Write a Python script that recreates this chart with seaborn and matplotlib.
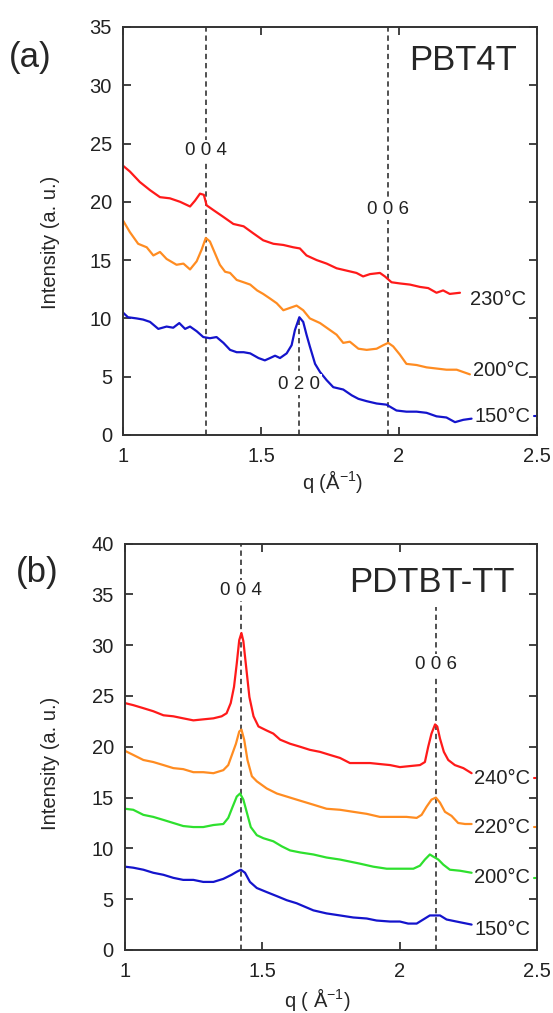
import numpy as np
import pandas as pd
import matplotlib
matplotlib.use("Agg")
import matplotlib.pyplot as plt
import seaborn as sns

# ---- data ----
# panel (a) PBT4T
q_a_230 = [1.000, 1.025, 1.061, 1.098, 1.134, 1.170, 1.207, 1.243, 1.261, 1.279, 1.293, 1.303, 1.327,
           1.364, 1.400, 1.437, 1.472, 1.508, 1.545, 1.581, 1.617, 1.641, 1.665, 1.702, 1.738, 1.774,
           1.810, 1.846, 1.870, 1.895, 1.931, 1.949, 1.973, 2.003, 2.040, 2.076, 2.106, 2.136, 2.160,
           2.184, 2.221]
i_a_230 = [23.1, 22.6, 21.7, 21.0, 20.4, 20.3, 20.0, 19.6, 20.1, 20.7, 20.6, 19.7, 19.3,
           18.7, 18.1, 17.9, 17.3, 16.7, 16.4, 16.3, 16.1, 16.0, 15.4, 15.0, 14.7, 14.3,
           14.1, 13.9, 13.6, 13.8, 13.9, 13.6, 13.1, 13.0, 12.9, 12.7, 12.6, 12.2, 12.4,
           12.1, 12.2]

q_a_200 = [1.000, 1.025, 1.055, 1.086, 1.110, 1.134, 1.158, 1.194, 1.219, 1.243, 1.267, 1.285, 1.300,
           1.315, 1.333, 1.351, 1.370, 1.388, 1.412, 1.437, 1.461, 1.486, 1.508, 1.533, 1.557, 1.581,
           1.605, 1.629, 1.653, 1.677, 1.714, 1.750, 1.774, 1.798, 1.822, 1.853, 1.883, 1.919, 1.943,
           1.961, 1.979, 2.003, 2.027, 2.064, 2.100, 2.136, 2.172, 2.209, 2.233, 2.257]
i_a_200 = [18.4, 17.4, 16.4, 16.1, 15.4, 15.7, 15.1, 14.6, 14.7, 14.2, 14.9, 15.9, 16.9,
           16.6, 15.6, 14.6, 14.0, 13.9, 13.3, 13.1, 12.9, 12.4, 12.1, 11.7, 11.3, 10.7,
           10.9, 11.1, 10.7, 10.0, 9.6, 9.0, 8.6, 7.9, 8.0, 7.4, 7.3, 7.4, 7.7,
           7.9, 7.6, 6.9, 6.1, 6.0, 5.8, 5.7, 5.6, 5.6, 5.4, 5.2]

q_a_150 = [1.000, 1.018, 1.049, 1.073, 1.098, 1.128, 1.158, 1.182, 1.204, 1.225, 1.243, 1.267, 1.291,
           1.315, 1.339, 1.364, 1.388, 1.412, 1.437, 1.461, 1.491, 1.514, 1.533, 1.551, 1.569, 1.593,
           1.611, 1.623, 1.639, 1.653, 1.665, 1.677, 1.696, 1.714, 1.738, 1.762, 1.798, 1.829, 1.853,
           1.883, 1.919, 1.955, 1.991, 2.027, 2.064, 2.100, 2.136, 2.172, 2.203, 2.233, 2.263]
i_a_150 = [10.5, 10.1, 10.0, 9.9, 9.7, 9.1, 9.3, 9.2, 9.6, 9.1, 9.3, 8.9, 8.4,
           8.3, 8.4, 7.9, 7.3, 7.1, 7.1, 7.0, 6.6, 6.4, 6.6, 6.8, 6.6, 7.0,
           7.7, 9.0, 10.1, 9.7, 8.6, 7.6, 6.1, 5.4, 4.7, 4.1, 3.9, 3.4, 3.1,
           2.9, 2.7, 2.6, 2.1, 2.0, 2.0, 1.9, 1.6, 1.5, 1.1, 1.3, 1.4]

# panel (b) PDTBT-TT
q_b_240 = [1.000, 1.030, 1.067, 1.103, 1.140, 1.176, 1.212, 1.249, 1.285, 1.322, 1.352, 1.370, 1.385,
           1.397, 1.407, 1.416, 1.424, 1.431, 1.441, 1.453, 1.468, 1.486, 1.516, 1.540, 1.565, 1.601,
           1.638, 1.673, 1.710, 1.746, 1.783, 1.819, 1.855, 1.892, 1.928, 1.965, 2.001, 2.037, 2.074,
           2.092, 2.104, 2.116, 2.129, 2.137, 2.147, 2.161, 2.177, 2.201, 2.232, 2.262]
i_b_240 = [24.3, 24.1, 23.8, 23.5, 23.1, 23.0, 22.8, 22.6, 22.7, 22.8, 23.0, 23.3, 24.3,
           25.9, 28.2, 30.5, 31.2, 30.4, 27.9, 24.9, 23.0, 22.0, 21.6, 21.3, 20.7, 20.3,
           20.0, 19.7, 19.5, 19.2, 18.9, 18.4, 18.4, 18.4, 18.3, 18.2, 18.0, 18.1, 18.2,
           18.5, 20.0, 21.3, 22.2, 22.0, 20.8, 19.5, 18.7, 18.2, 17.9, 17.4]

q_b_220 = [1.000, 1.030, 1.067, 1.103, 1.140, 1.176, 1.212, 1.249, 1.285, 1.322, 1.358, 1.376, 1.392,
           1.404, 1.416, 1.424, 1.434, 1.446, 1.462, 1.480, 1.516, 1.553, 1.589, 1.625, 1.686, 1.734,
           1.783, 1.831, 1.880, 1.928, 1.977, 2.025, 2.062, 2.080, 2.098, 2.116, 2.132, 2.147, 2.165,
           2.189, 2.213, 2.238, 2.262]
i_b_220 = [19.6, 19.2, 18.7, 18.5, 18.2, 17.9, 17.8, 17.5, 17.5, 17.4, 17.7, 18.2, 19.4,
           20.3, 21.5, 21.7, 20.7, 18.7, 17.1, 16.6, 15.9, 15.4, 15.1, 14.8, 14.3, 13.9,
           13.8, 13.6, 13.4, 13.1, 13.1, 13.1, 13.0, 13.3, 14.1, 14.8, 15.0, 14.5, 13.6,
           13.2, 12.5, 12.4, 12.4]

q_b_200 = [1.000, 1.030, 1.067, 1.103, 1.140, 1.176, 1.212, 1.249, 1.285, 1.322, 1.358, 1.376, 1.392,
           1.407, 1.419, 1.431, 1.444, 1.458, 1.480, 1.504, 1.540, 1.571, 1.601, 1.638, 1.686, 1.734,
           1.783, 1.819, 1.855, 1.904, 1.953, 2.001, 2.050, 2.074, 2.092, 2.110, 2.122, 2.141, 2.159,
           2.183, 2.220, 2.262]
i_b_200 = [13.9, 13.8, 13.3, 13.1, 12.8, 12.5, 12.2, 12.1, 12.1, 12.3, 12.4, 13.0, 14.1,
           15.1, 15.4, 14.8, 13.5, 12.1, 11.3, 11.0, 10.7, 10.2, 9.8, 9.6, 9.4, 9.1,
           8.9, 8.7, 8.5, 8.2, 8.0, 8.0, 8.0, 8.3, 8.9, 9.4, 9.2, 8.9, 8.4,
           7.9, 7.8, 7.6]

q_b_150 = [1.000, 1.030, 1.067, 1.103, 1.140, 1.176, 1.212, 1.249, 1.285, 1.322, 1.358, 1.388, 1.407,
           1.422, 1.437, 1.455, 1.480, 1.516, 1.553, 1.589, 1.625, 1.686, 1.734, 1.783, 1.831, 1.880,
           1.916, 1.965, 2.001, 2.031, 2.062, 2.086, 2.110, 2.147, 2.171, 2.207, 2.262]
i_b_150 = [8.2, 8.1, 7.9, 7.6, 7.4, 7.1, 6.9, 6.9, 6.7, 6.7, 7.0, 7.4, 7.7,
           7.9, 7.6, 6.7, 6.1, 5.7, 5.3, 4.9, 4.6, 3.9, 3.6, 3.4, 3.2, 3.1,
           2.9, 2.8, 2.8, 2.6, 2.6, 3.0, 3.4, 3.4, 3.0, 2.8, 2.5]

# temperature labels: text, x, y
temps_a = ["230°C", "200°C", "150°C"]
temp_a_x = [2.257, 2.267, 2.272]
temp_a_y = [11.6, 5.5, 1.6]
temps_b = ["240°C", "220°C", "200°C", "150°C"]
temp_b_x = [2.271, 2.271, 2.271, 2.271]
temp_b_y = [16.9, 12.1, 7.1, 2.0]

# reflections: label, q, label y, dashed line top
refl_a = ["0 0 4", "0 2 0", "0 0 6"]
refl_a_q = [1.300, 1.639, 1.959]
refl_a_ty = [24.4, 4.3, 19.3]
refl_a_top = [35, 10.0, 35]
refl_b = ["0 0 4", "0 0 6"]
refl_b_q = [1.421, 2.133]
refl_b_ty = [35.4, 28.1]
refl_b_top = [40, 33.8]

RED = "#ff1a1a"
ORANGE = "#ff8c21"
BLUE = "#1414cc"
GREEN = "#2ee02e"

sns.set_style("ticks")
plt.rcParams["font.family"] = ["Liberation Sans", "DejaVu Sans"]
plt.rcParams["mathtext.fontset"] = "custom"
plt.rcParams["mathtext.rm"] = "Liberation Sans"

fig = plt.figure(figsize=(5.53, 10.13), dpi=100)
ax_a = fig.add_axes([0.2224, 0.5706, 0.7486, 0.4028])
ax_b = fig.add_axes([0.2260, 0.0622, 0.7450, 0.4012])


def draw_curves(ax, series):
    for q, inten, col in series:
        df = pd.DataFrame({"q": q, "I": inten})
        sns.lineplot(data=df, x="q", y="I", ax=ax, color=col, lw=1.6, sort=True)


def style_axes(ax, ymax):
    ax.set_xlim(1, 2.5)
    ax.set_ylim(0, ymax)
    ax.set_xticks([1, 1.5, 2, 2.5])
    ax.set_xticklabels(["1", "1.5", "2", "2.5"])
    ax.set_yticks(np.arange(0, ymax + 1, 5))
    ax.tick_params(direction="in", length=6, width=1.2, labelsize=14.5, colors="#222222",
                   top=True, right=True)
    ax.tick_params(axis="x", pad=9)
    ax.tick_params(axis="y", pad=8)
    for s in ax.spines.values():
        s.set_linewidth(1.4)
        s.set_color("#333333")


def draw_refl(ax, names, qs, tys, tops):
    for name, q, ty, top in zip(names, qs, tys, tops):
        ax.plot([q, q], [0, top], color="#222222", lw=1.1, ls=(0, (3.5, 2.5)), zorder=1)
        ax.text(q, ty, name, ha="center", va="center", fontsize=13.5, color="#222222", zorder=3,
                bbox=dict(boxstyle="square,pad=0.1", fc="white", ec="none"))


def draw_temps(ax, names, xs, ys, cols):
    for name, x, y, col in zip(names, xs, ys, cols):
        ax.text(x, y, name, ha="left", va="center", fontsize=14.5, color="#222222")
        ax.plot([2.488, 2.5], [y, y], color=col, lw=1.5, clip_on=False)


# ---- panel (a) ----
draw_refl(ax_a, refl_a, refl_a_q, refl_a_ty, refl_a_top)
draw_curves(ax_a, [(q_a_230, i_a_230, RED), (q_a_200, i_a_200, ORANGE), (q_a_150, i_a_150, BLUE)])
style_axes(ax_a, 35)
draw_temps(ax_a, temps_a, temp_a_x, temp_a_y, ["white", "white", BLUE])
ax_a.text(2.428, 32.1, "PBT4T", ha="right", va="center", fontsize=25)
ax_a.set_xlabel("q (Å$^{-1}$)", fontsize=14.5)
ax_a.set_ylabel("Intensity (a. u.)", fontsize=14.5)
ax_a.xaxis.set_label_coords(0.507, -0.115)
ax_a.xaxis.label.set_va("center")
ax_a.yaxis.set_label_coords(-0.174, 0.473)
ax_a.yaxis.label.set_va("center")

# ---- panel (b) ----
draw_refl(ax_b, refl_b, refl_b_q, refl_b_ty, refl_b_top)
draw_curves(ax_b, [(q_b_240, i_b_240, RED), (q_b_220, i_b_220, ORANGE),
                   (q_b_200, i_b_200, GREEN), (q_b_150, i_b_150, BLUE)])
style_axes(ax_b, 40)
draw_temps(ax_b, temps_b, temp_b_x, temp_b_y, [RED, ORANGE, GREEN, "white"])
ax_b.text(2.42, 36.2, "PDTBT-TT", ha="right", va="center", fontsize=25)
ax_b.set_xlabel("q ( Å$^{-1}$)", fontsize=14.5)
ax_b.set_ylabel("Intensity (a. u.)", fontsize=14.5)
ax_b.xaxis.set_label_coords(0.466, -0.123)
ax_b.xaxis.label.set_va("center")
ax_b.yaxis.set_label_coords(-0.18, 0.46)
ax_b.yaxis.label.set_va("center")

fig.text(0.055, 0.9437, "(a)", fontsize=25, ha="center", va="center")
fig.text(0.0669, 0.4344, "(b)", fontsize=25, ha="center", va="center")

fig.savefig("out.png", dpi=100, facecolor="white")
